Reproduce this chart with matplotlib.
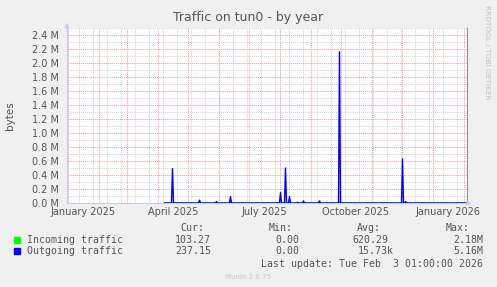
import numpy as np
import pandas as pd
import matplotlib
matplotlib.use("Agg")
import matplotlib.pyplot as plt
from matplotlib.ticker import FuncFormatter, MultipleLocator

# data (daily values, bytes)
data_start = "2025-04-08"
data_end = "2026-02-03"
out_dates = ["2025-04-16", "2025-05-13", "2025-05-30", "2025-06-13", "2025-08-02",
             "2025-08-07", "2025-08-11", "2025-08-19", "2025-08-25", "2025-09-10",
             "2025-09-30", "2025-12-02", "2025-12-05"]
out_values = [0.49e6, 0.04e6, 0.02e6, 0.09e6, 0.15e6,
              0.50e6, 0.09e6, 0.01e6, 0.03e6, 0.03e6,
              2.16e6, 0.63e6, 0.02e6]
in_dates = ["2025-09-30"]
in_values = [0.02e6]

legend_names = ["Incoming traffic", "Outgoing traffic"]
legend_cur = ["103.27", "237.15"]
legend_min = ["0.00", "0.00"]
legend_avg = ["620.29", "15.73k"]
legend_max = ["2.18M", "5.16M"]

days = pd.date_range(data_start, data_end, freq="D")
outgoing = pd.Series(0.0, index=days)
outgoing[pd.to_datetime(out_dates)] = out_values
incoming = pd.Series(0.0, index=days)
incoming[pd.to_datetime(in_dates)] = in_values

W, H = 497, 287
fig = plt.figure(figsize=(W / 100, H / 100), dpi=100, facecolor="#F0F0F0")
ax = fig.add_axes([67 / W, (H - 203) / H, 400 / W, 175 / H], facecolor="white")

x0 = pd.Timestamp("2024-12-31 12:00")
x1 = x0 + pd.Timedelta(days=400)
ax.set_xlim(x0, x1)
ax.set_ylim(0, 2.5e6)

# grid
red = "#E0A0A0"
grey = "#D0D0D0"
for y in np.arange(0.1e6, 2.55e6, 0.1e6):
    major = round(y / 1e5) % 2 == 0
    ax.axhline(y, color=red if major else grey, lw=0.7,
               ls=(0, (1, 1)), zorder=1 if major else 0.5)
minor_days = pd.date_range("2025-01-12", x1, freq="14D")
for d in minor_days:
    ax.axvline(d, color=grey, lw=0.7, ls=(0, (1, 1)), zorder=0.5)
month_starts = pd.date_range("2025-01-01", x1, freq="MS")
for d in month_starts:
    ax.axvline(d, color=red, lw=0.7, ls=(0, (1, 1)), zorder=1)

ax.plot(incoming.index, incoming.values, color="#00FF00", lw=1, zorder=3)
ax.plot(outgoing.index, outgoing.values, color="#0000FF", lw=1, zorder=4)

# axes decoration
ax.spines["top"].set_visible(False)
ax.spines["left"].set_color("#C8C8F0")
ax.spines["bottom"].set_color("#C8C8F0")
ax.spines["right"].set_color("#909090")
ax.annotate("", xy=(0, 1.045), xytext=(0, 1.0), xycoords="axes fraction",
            arrowprops=dict(arrowstyle="-|>", color="#C8C8F0", lw=0.8, mutation_scale=7))
ax.annotate("", xy=(1.018, 0), xytext=(1.0, 0), xycoords="axes fraction",
            arrowprops=dict(arrowstyle="-|>", color="#C8C8F0", lw=0.8, mutation_scale=7))

ax.yaxis.set_major_locator(MultipleLocator(0.2e6))
ax.yaxis.set_major_formatter(FuncFormatter(lambda v, p: f"{v / 1e6:.1f} M"))
label_ticks = [pd.Timestamp(y, m, 1) + pd.Timedelta(days=15.5)
               for y, m in [(2025, 1), (2025, 4), (2025, 7), (2025, 10), (2026, 1)]]
ax.set_xticks(label_ticks)
ax.set_xticklabels([d.strftime("%B %Y") for d in label_ticks])
ax.tick_params(axis="both", length=0, labelsize=7, labelcolor="#555555")
ax.tick_params(axis="y", pad=6)
ax.tick_params(axis="x", pad=3)
ax.set_ylabel("bytes", fontsize=7.5, color="#555555", labelpad=12)

fig.text(248 / W, 1 - 18 / H, "Traffic on tun0 - by year", ha="center", va="center",
         fontsize=9, color="#555555")
fig.text(487 / W, 1 - 5 / H, "RRDTOOL / TOBI OETIKER", rotation=270, ha="center", va="top",
         fontsize=5.3, color="#C0C0C0")

mono = dict(family="DejaVu Sans Mono", fontsize=7.1, color="#555555", va="center")
fig.text(204 / W, 1 - 228 / H, "Cur:", ha="right", **mono)
fig.text(293 / W, 1 - 228 / H, "Min:", ha="right", **mono)
fig.text(381 / W, 1 - 228 / H, "Avg:", ha="right", **mono)
fig.text(470 / W, 1 - 228 / H, "Max:", ha="right", **mono)
colors = ["#00FF00", "#0000FF"]
for i, yy in enumerate([240, 251]):
    fig.patches.append(plt.Rectangle((14 / W, 1 - (yy + 3) / H), 6 / W, 6 / H,
                                     transform=fig.transFigure, color=colors[i]))
    fig.text(27 / W, 1 - yy / H, legend_names[i], ha="left", **mono)
    fig.text(211 / W, 1 - yy / H, legend_cur[i], ha="right", **mono)
    fig.text(299 / W, 1 - yy / H, legend_min[i], ha="right", **mono)
    fig.text((388 if i == 0 else 394) / W, 1 - yy / H, legend_avg[i], ha="right", **mono)
    fig.text(483 / W, 1 - yy / H, legend_max[i], ha="right", **mono)
fig.text(483 / W, 1 - 264 / H, "Last update: Tue Feb  3 01:00:00 2026", ha="right", **mono)
fig.text(248 / W, 1 - 277 / H, "Munin 2.0.75", ha="center", va="center",
         fontsize=5, color="#C8C8C8")

fig.savefig("out.png", dpi=100, facecolor=fig.get_facecolor())
